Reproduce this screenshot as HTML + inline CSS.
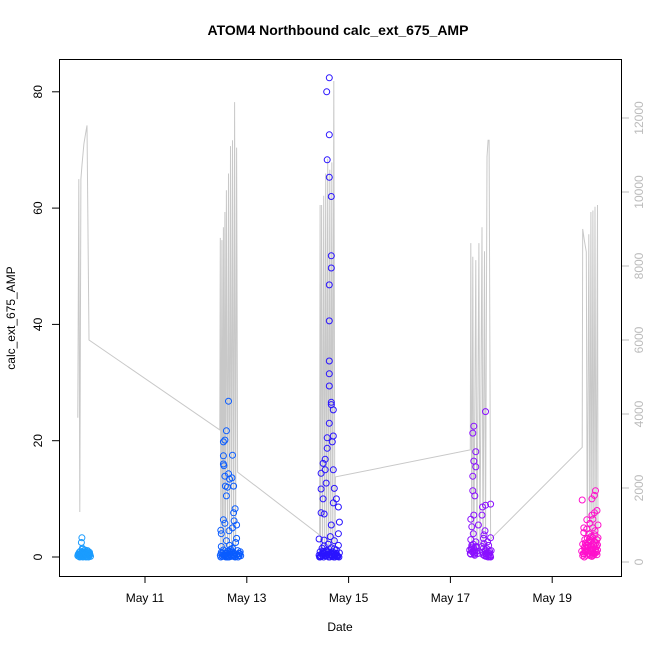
<!DOCTYPE html>
<html><head><meta charset="utf-8"><style>
body{margin:0;background:#fff;}
svg text{font-family:"Liberation Sans",sans-serif;}
</style></head><body>
<svg id="chart" width="650" height="650" xmlns="http://www.w3.org/2000/svg">
<rect width="650" height="650" fill="#fff"/>
<text x="338" y="35" text-anchor="middle" font-size="14" font-weight="bold">ATOM4 Northbound calc_ext_675_AMP</text>
<text x="340" y="631" text-anchor="middle" font-size="12">Date</text>
<text transform="translate(15,318) rotate(-90)" text-anchor="middle" font-size="12">calc_ext_675_AMP</text>
<g id="gray"></g>
<g id="pts"></g>
<g id="axes"></g>
<rect x="59.5" y="59.5" width="562" height="517" fill="none" stroke="#000"/>
</svg>
<script>
// axis data
const xTickDays=[11,13,15,17,19];
const xTickLabels=["May 11","May 13","May 15","May 17","May 19"];
const yTicks=[0,20,40,60,80];
const y2Ticks=[0,2000,4000,6000,8000,10000,12000];
// secondary gray series [day, value]
const grayDays=[9.68,9.70,9.72,9.74,9.76,9.78,9.80,9.83,9.86,9.90,
12.47,12.48,12.49,12.51,12.52,12.54,12.55,12.57,12.58,12.60,12.62,12.64,12.66,12.68,12.70,12.72,12.74,12.76,12.78,12.80,12.82,
14.43,14.44,14.45,14.47,14.49,14.51,14.53,14.55,14.57,14.59,14.61,14.63,14.65,14.67,14.69,14.71,14.73,14.74,
17.39,17.40,17.42,17.44,17.46,17.50,17.52,17.56,17.58,17.62,17.64,17.67,17.69,17.72,17.74,17.76,17.79,
19.59,19.60,19.63,19.67,19.69,19.72,19.74,19.76,19.78,19.80,19.82,19.84,19.86,19.89,19.90];
const grayVals=[3900,10350,1350,10350,10700,11000,11300,11550,11800,6000,
3570,8760,100,8700,100,9050,150,9460,120,10050,100,10500,150,11240,100,11400,120,12430,100,11200,2430,
730,9650,200,9650,150,9900,100,10500,150,10900,100,10600,150,10800,100,13000,150,2300,
3030,8620,150,8250,100,8160,150,8620,200,9050,100,8400,200,10950,11400,11400,620,
3100,9000,8700,8380,100,8860,150,9460,100,9500,150,9600,100,9650,200];
// scatter clusters
const c1Days=[9.68,9.69,9.70,9.71,9.72,9.73,9.74,9.75,9.76,9.77,9.78,9.79,9.80,9.81,9.82,9.83,9.84,9.85,9.86,9.87,9.88,9.89,9.90,9.91,9.92,9.93,9.72,9.74,9.76,9.78,9.80,9.82,9.84,9.86,9.88,9.90,9.70,9.75,9.79,9.83,9.87,9.91,9.73,9.77,9.81,9.85,9.89];
const c1Vals=[0.2,0.5,0.1,0.8,0.3,1.0,0.4,2.5,3.3,1.5,0.6,0.2,0.9,0.4,1.2,0.3,0.7,0.1,0.5,1.1,0.3,0.6,0.2,0.8,0.4,0.1,0.0,0.6,0.2,0.0,0.7,0.9,0.0,0.3,0.5,0.2,0.4,0.8,0.1,0.5,0.9,0.6,0.3,1.3,0.2,0.6,0.0];
const c2Days=[12.64,12.60,12.54,12.57,12.54,12.72,12.54,12.55,12.57,12.64,12.66,12.58,12.74,12.62,12.60,12.71,12.77,12.74,12.54,12.57,12.49,12.75,12.50,12.65,12.72,12.80,
12.48,12.50,12.52,12.54,12.56,12.58,12.60,12.62,12.64,12.66,12.68,12.70,12.72,12.74,12.76,12.78,12.80,12.82,12.84,12.86,12.50,12.55,12.60,12.65,12.70,12.75,12.80,12.85,12.88,12.62,12.68,12.74,
12.49,12.53,12.57,12.61,12.65,12.69,12.73,12.77,12.81,12.85,12.51,12.59,12.67,12.75,12.83,12.87];
const c2Vals=[26.8,21.7,19.8,20.1,17.4,17.5,16.0,15.7,13.9,14.3,13.4,12.2,12.2,12.0,10.5,13.6,8.3,7.6,6.4,5.8,4.6,6.2,4.0,4.5,5.0,5.5,
0.3,0.8,0.1,1.2,0.4,0.6,0.2,1.0,0.3,2.0,0.5,0.1,1.5,0.7,0.2,2.5,0.4,1.1,0.3,0.6,1.8,0.2,2.8,0.5,0.9,0.1,3.2,0.6,0.2,0.0,1.3,0.4,
0.0,0.4,0.1,0.7,0.0,0.3,0.9,0.0,0.5,0.2,0.6,0.0,0.8,0.2,0.0,0.9];
const c3Days=[14.62,14.57,14.62,14.58,14.62,14.66,14.66,14.66,14.62,14.62,14.62,14.62,14.62,14.66,14.66,14.70,14.62,14.58,14.70,14.68,14.58,14.54,14.50,14.46,14.54,14.70,14.46,14.56,14.72,14.50,14.76,14.70,14.46,14.52,14.80,14.66,14.82,14.42,14.52,
14.42,14.44,14.46,14.48,14.50,14.52,14.54,14.56,14.58,14.60,14.62,14.64,14.66,14.68,14.70,14.72,14.74,14.76,14.78,14.80,14.82,14.44,14.48,14.52,14.56,14.60,14.64,14.68,14.72,14.76,14.80,14.50,14.62,14.74,
14.43,14.47,14.51,14.55,14.59,14.63,14.67,14.71,14.75,14.79,14.45,14.53,14.61,14.69,14.77,14.81,14.49,14.57,14.65,14.73];
const c3Vals=[82.4,80.0,72.6,68.3,65.3,62.0,51.8,49.7,46.8,40.6,33.7,31.5,29.4,26.6,26.2,25.3,23.0,20.5,20.8,19.8,18.7,16.8,16.1,14.4,15.0,15.0,11.7,12.7,11.8,10.0,10.0,9.3,7.6,7.4,8.6,5.5,6.0,3.1,2.9,
0.3,0.9,0.1,1.5,0.4,0.7,0.2,1.1,0.5,2.2,0.3,0.8,1.6,0.1,0.6,2.8,0.4,1.2,0.2,4.0,0.7,0.0,0.5,1.9,0.2,0.9,3.5,0.3,1.4,0.6,2.0,1.0,0.4,0.2,
0.0,0.5,0.0,0.3,0.8,0.0,0.4,0.0,0.6,0.1,0.2,0.6,0.0,0.9,0.3,0.0,0.7,0.2,0.4,0.0];
const c4Days=[17.69,17.46,17.44,17.50,17.46,17.50,17.44,17.44,17.48,17.79,17.69,17.63,17.46,17.62,17.40,17.55,17.42,17.79,17.66,
17.38,17.40,17.42,17.44,17.46,17.48,17.50,17.52,17.54,17.62,17.64,17.66,17.68,17.70,17.72,17.74,17.76,17.78,17.80,17.40,17.45,17.50,17.65,17.70,17.75,17.78,17.44,17.68,
17.39,17.41,17.43,17.45,17.47,17.49,17.51,17.63,17.65,17.67,17.69,17.71,17.73,17.75,17.77,17.79,17.42,17.48,17.70,17.76];
const c4Vals=[25.0,22.5,21.3,18.1,16.5,15.5,13.9,11.4,10.5,9.1,8.9,8.6,7.2,7.2,6.5,5.5,5.2,3.3,3.8,
1.2,0.5,2.0,0.8,1.5,0.3,2.6,1.0,0.6,1.8,0.4,2.3,0.9,0.2,1.4,0.0,0.7,0.3,1.1,3.0,4.0,1.7,3.2,0.5,2.0,0.1,0.9,4.5,
0.6,1.4,0.9,2.2,0.5,1.1,1.8,0.8,1.5,0.2,1.2,0.6,2.6,0.3,1.0,0.0,1.7,0.7,0.1,0.5];
const c5Days=[19.59,19.85,19.83,19.78,19.83,19.78,19.68,19.62,19.80,19.88,
19.58,19.60,19.62,19.64,19.66,19.68,19.70,19.72,19.74,19.76,19.78,19.80,19.82,19.84,19.86,19.88,19.90,19.60,19.64,19.68,19.72,19.76,19.80,19.84,19.88,19.62,19.70,19.78,19.86,19.66,19.74,19.82,19.90,
19.61,19.63,19.65,19.67,19.69,19.71,19.73,19.75,19.77,19.79,19.81,19.83,19.85,19.87,19.89,19.63,19.67,19.71,19.75,19.79,19.83,19.87,19.65,19.73,19.81,19.89];
const c5Vals=[9.8,11.4,10.6,10.0,7.6,7.2,6.4,5.0,6.5,8.0,
1.0,2.2,0.5,3.0,1.5,0.3,2.5,4.0,1.2,3.5,0.8,5.0,2.0,4.5,1.0,3.0,5.5,0.2,1.8,4.8,0.6,2.8,1.3,3.8,0.4,4.2,2.0,0.1,2.4,1.1,5.8,0.7,3.3,
0.6,1.6,2.4,0.9,3.2,1.7,0.4,2.6,1.9,3.4,0.3,2.7,1.4,0.8,2.1,0.0,2.0,1.0,0.2,1.5,0.5,1.8,0.9,3.0,2.2,1.2];
const clusterColors=["#1a9cff","#0a5cff","#2a14ff","#8a10ff","#ff10cc"];
const clusters=[[c1Days,c1Vals],[c2Days,c2Vals],[c3Days,c3Vals],[c4Days,c4Vals],[c5Days,c5Vals]];

const NS="http://www.w3.org/2000/svg";
const xS=d=>145+(d-11)*50.9;
const yS=v=>557-v*5.815;
const y2S=v=>562-v*0.037;
function mk(tag,attrs,parent){const e=document.createElementNS(NS,tag);for(const k in attrs)e.setAttribute(k,attrs[k]);parent.appendChild(e);return e;}

const gray=document.getElementById('gray');
let d="";
grayDays.forEach((dd,i)=>{d+=(i?"L":"M")+xS(dd).toFixed(1)+","+y2S(grayVals[i]).toFixed(1);});
const gp=mk('path',{d:d,fill:"none",stroke:"#c8c8c8","stroke-width":"1"},gray);



const pts=document.getElementById('pts');
clusters.forEach((c,ci)=>{
  c[0].forEach((dd,i)=>{
    const p=mk('circle',{cx:xS(dd).toFixed(1),cy:yS(c[1][i]).toFixed(1),r:"3",fill:"none",stroke:clusterColors[ci],"stroke-width":"1"},pts);
    
    
  });
});

const ax=document.getElementById('axes');
xTickDays.forEach((dd,i)=>{
  const x=xS(dd);
  const t=mk('line',{x1:x,x2:x,y1:576,y2:583,stroke:"#000"},ax);
  
  
  const l=mk('text',{x:x,y:602,"text-anchor":"middle","font-size":"12"},ax);
  l.textContent=xTickLabels[i];
  
  
});
mk('line',{x1:59.5,x2:59.5,y1:yS(0),y2:yS(80),stroke:"#000"},ax);
yTicks.forEach(v=>{
  const y=yS(v);
  const t=mk('line',{x1:52,x2:59.5,y1:y,y2:y,stroke:"#000"},ax);
  
  
  const l=mk('text',{transform:`translate(42,${y}) rotate(-90)`,"text-anchor":"middle","font-size":"12"},ax);
  l.textContent=v;
  
  
});
mk('line',{x1:621.5,x2:621.5,y1:y2S(0),y2:y2S(12000),stroke:"#bbb"},ax);
y2Ticks.forEach(v=>{
  const y=y2S(v);
  const t=mk('line',{x1:621.5,x2:629,y1:y,y2:y,stroke:"#bbb"},ax);
  
  
  const l=mk('text',{transform:`translate(643,${y}) rotate(-90)`,"text-anchor":"middle","font-size":"12",fill:"#bbb"},ax);
  l.textContent=v;
  
  
});
</script>
</body></html>
